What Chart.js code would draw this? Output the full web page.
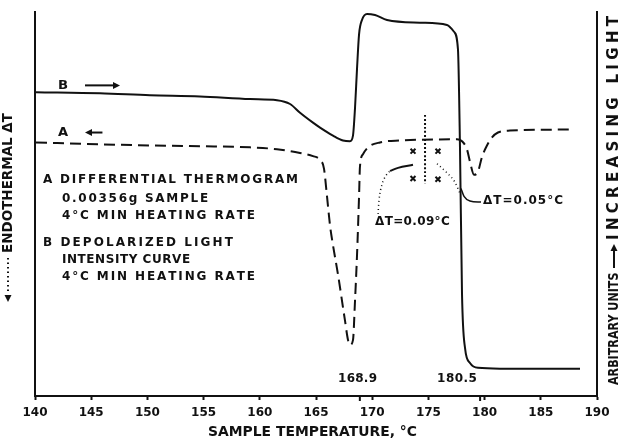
<!DOCTYPE html>
<html>
<head>
<meta charset="utf-8">
<script src="https://cdn.jsdelivr.net/npm/chart.js@4"></script>
<style>
  body { margin: 0; background: #fff; }
  canvas { display: block; }
</style>
</head>
<body>
<canvas id="thermo" width="621" height="440"></canvas>
<script>
// curve B: depolarized light intensity (solid)
const bTemp  = [140.09, 145.78, 150.23, 154.68, 159.13, 161.53, 162.69, 163.58, 164.73, 165.36, 166.51, 167.40, 168.02, 168.29, 168.47, 168.65, 168.83, 169.09, 169.54, 170.25, 171.32, 174.25, 176.65, 177.28, 177.63, 177.81, 177.99, 178.26, 178.70, 179.41, 181.37, 188.49];
const bLight = [78.9, 78.6, 78.1, 77.8, 77.1, 76.8, 75.8, 73.5, 70.9, 69.6, 67.5, 66.2, 66.0, 67.5, 74.7, 85.1, 94.1, 97.9, 99.5, 99.2, 97.9, 97.2, 96.6, 94.8, 90.2, 64.4, 25.8, 11.6, 7.7, 6.4, 6.2, 6.2];

// curve A: differential thermogram (dashed)
const aTemp  = [140.09, 145.78, 150.23, 154.68, 159.13, 161.53, 163.58, 164.73, 165.36, 165.71, 165.98, 166.25, 166.51, 166.96, 167.58, 167.85, 168.02, 168.29, 168.47, 168.65, 168.83, 168.91, 169.18, 169.63, 170.69, 172.47, 177.54, 177.99, 178.43, 178.70, 179.06, 179.41, 179.77, 180.21, 180.66, 181.19, 182.26, 187.78];
const aDelta = [65.7, 65.2, 64.9, 64.7, 64.4, 63.9, 62.9, 62.1, 61.1, 58.8, 51.5, 43.8, 38.7, 30.9, 18.8, 13.7, 12.4, 13.7, 24.0, 36.1, 51.5, 59.3, 62.6, 64.4, 65.7, 66.2, 66.5, 66.0, 63.9, 60.6, 57.2, 58.0, 61.9, 64.9, 67.0, 68.3, 68.8, 69.1];

// dotted detail curves near the transitions
const c1Temp = [170.52, 170.60, 170.87, 171.23, 171.58];
const c1Val  = [46.9, 50.3, 54.6, 57.0, 58.2];
const c2Temp = [171.58, 172.30, 173.63];
const c2Val  = [58.2, 59.0, 59.8];
const c3Temp = [175.77, 176.65, 177.37, 177.81];
const c3Val  = [60.1, 57.7, 55.2, 52.3];
const leadTemp = [177.90, 178.17, 178.70, 179.68];
const leadVal  = [53.6, 51.5, 50.3, 50.0];
const vTemp = [174.70, 174.70];
const vVal  = [72.9, 54.9];
const markTemp = [173.63, 175.85, 173.63, 175.85];
const markVal  = [63.4, 63.4, 56.2, 56.0];

// tick labels and notes
const xTicks = [140, 145, 150, 155, 160, 165, 170, 175, 180, 185, 190];
const noteText  = ["B", "A", "A DIFFERENTIAL THERMOGRAM", "0.00356g SAMPLE", "4°C MIN HEATING RATE", "B DEPOLARIZED LIGHT", "INTENSITY CURVE", "4°C MIN HEATING RATE", "ΔT=0.09°C", "ΔT=0.05°C", "168.9", "180.5"];
const noteFrom  = [142.05, 142.05, 140.71, 142.40, 142.40, 140.71, 142.40, 142.40, 170.25, 179.86, 166.96, 175.77];
const noteTo    = [142.95, 142.95, 163.40, 155.40, 159.57, 157.60, 153.80, 159.57, 176.90, 186.97, 170.43, 179.32];
const noteLevel = [80.7, 68.3, 55.9, 50.8, 46.4, 39.4, 34.8, 30.4, 44.8, 50.3, 3.6, 3.6];
const markTicks = [168.9, 179.6];

const ink = "#111";
const font = "bold 12px 'DejaVu Sans'";

function pts(xs, ys) { return xs.map((t, i) => ({ x: t, y: ys[i] })); }

function spaced(ctx, s, x0, x1, yy) {
  const chars = [...s];
  const widths = chars.map(c => ctx.measureText(c).width);
  const nat = widths.reduce((a, b) => a + b, 0);
  const room = x1 - x0;
  if (nat >= room || chars.length < 2) {
    ctx.save();
    ctx.translate(x0, yy);
    ctx.scale(room / nat, 1);
    ctx.fillText(s, 0, 0);
    ctx.restore();
    return;
  }
  const gap = (room - nat) / (chars.length - 1);
  let cx = x0;
  chars.forEach((c, k) => { ctx.fillText(c, cx, yy); cx += widths[k] + gap; });
}

function arrowHead(ctx, x, y, dir) {
  ctx.beginPath();
  ctx.moveTo(x, y);
  ctx.lineTo(x - dir * 7, y - 3.5);
  ctx.lineTo(x - dir * 7, y + 3.5);
  ctx.closePath();
  ctx.fill();
}

const annot = {
  id: "annot",
  afterDraw(chart) {
    const { ctx, scales: { x, y } } = chart;
    const px = t => x.getPixelForValue(t);
    const py = v => y.getPixelForValue(v);
    ctx.save();
    ctx.fillStyle = ink;
    ctx.strokeStyle = ink;
    ctx.textAlign = "left";
    ctx.textBaseline = "middle";
    ctx.font = font;

    noteText.forEach((s, i) => spaced(ctx, s, px(noteFrom[i]), px(noteTo[i]), py(noteLevel[i])));

    // little arrows after the curve names
    ctx.lineWidth = 2;
    ctx.beginPath();
    ctx.moveTo(px(144.45), py(80.7));
    ctx.lineTo(px(147.0), py(80.7));
    ctx.stroke();
    arrowHead(ctx, px(147.56), py(80.7), 1);
    ctx.beginPath();
    ctx.moveTo(px(145.0), py(68.3));
    ctx.lineTo(px(146.0), py(68.3));
    ctx.stroke();
    arrowHead(ctx, px(144.45), py(68.3), -1);

    // marks for the transition temperatures
    const bottom = chart.chartArea.bottom;
    markTicks.forEach(t => {
      ctx.beginPath();
      ctx.moveTo(px(t), bottom);
      ctx.lineTo(px(t), bottom + 5);
      ctx.stroke();
    });

    // x axis title
    ctx.font = "bold 14px 'DejaVu Sans'";
    spaced(ctx, "SAMPLE TEMPERATURE, °C", 208, 418, 432);

    // left axis title
    ctx.save();
    ctx.translate(8, 0);
    ctx.rotate(-Math.PI / 2);
    ctx.font = "bold 14px 'DejaVu Sans'";
    spaced(ctx, "ENDOTHERMAL ΔT", -253, -113, 0);
    ctx.setLineDash([1.5, 3]);
    ctx.lineWidth = 2;
    ctx.beginPath();
    ctx.moveTo(-258, 0);
    ctx.lineTo(-292, 0);
    ctx.stroke();
    ctx.setLineDash([]);
    arrowHead(ctx, -302, 0, -1);
    ctx.restore();

    // right axis title
    ctx.save();
    ctx.translate(614, 0);
    ctx.rotate(-Math.PI / 2);
    ctx.font = "bold 14px 'DejaVu Sans'";
    spaced(ctx, "ARBITRARY UNITS", -385, -272, 0);
    ctx.lineWidth = 2;
    ctx.beginPath();
    ctx.moveTo(-268, 0);
    ctx.lineTo(-250, 0);
    ctx.stroke();
    arrowHead(ctx, -244, 0, 1);
    ctx.font = "bold 15px 'DejaVu Sans'";
    spaced(ctx, "INCREASING LIGHT", -240, -16, 0);
    ctx.restore();

    ctx.restore();
  }
};

const line = (data, extra) => Object.assign({
  data, borderColor: ink, borderWidth: 2, pointRadius: 0,
  cubicInterpolationMode: "monotone", clip: false, fill: false
}, extra);

new Chart(document.getElementById("thermo"), {
  type: "line",
  data: {
    datasets: [
      line(pts(bTemp, bLight), { label: "B" }),
      line(pts(aTemp, aDelta), { label: "A", borderDash: [11, 6] }),
      line(pts(c1Temp, c1Val), { borderWidth: 1.5, borderDash: [1, 3] }),
      line(pts(c2Temp, c2Val), { borderWidth: 2 }),
      line(pts(c3Temp, c3Val), { borderWidth: 1.5, borderDash: [1, 3] }),
      line(pts(leadTemp, leadVal), { borderWidth: 1.5 }),
      line(pts(vTemp, vVal), { borderWidth: 2, borderDash: [2, 2] }),
      line(pts(markTemp, markVal), {
        showLine: false, pointRadius: 3.5, pointStyle: "crossRot",
        pointBorderWidth: 2, pointBorderColor: ink
      })
    ]
  },
  options: {
    responsive: false,
    devicePixelRatio: 1,
    animation: false,
    layout: { padding: { left: 35, right: 24, top: 12, bottom: 0 } },
    plugins: { legend: { display: false }, tooltip: { enabled: false } },
    scales: {
      x: {
        type: "linear", min: 140, max: 190,
        afterBuildTicks: s => { s.ticks = xTicks.map(v => ({ value: v })); },
        afterFit: s => { s.height = 44; },
        ticks: { color: ink, font: { family: "DejaVu Sans", size: 12, weight: "bold" }, padding: 6, maxRotation: 0 },
        grid: { drawOnChartArea: false, drawTicks: true, tickLength: 4, tickWidth: 2, color: ink },
        border: { display: true, color: ink, width: 2 }
      },
      y: {
        min: -1, max: 100,
        afterFit: s => { s.width = 0; },
        ticks: { display: false },
        grid: { display: false },
        border: { display: true, color: ink, width: 2, dash: [2, 1.5] }
      },
      y2: {
        position: "right", min: -1, max: 100,
        afterFit: s => { s.width = 0; },
        ticks: { display: false },
        grid: { display: false },
        border: { display: true, color: ink, width: 2, dash: [2, 1.5] }
      }
    }
  },
  plugins: [annot]
});
</script>
</body>
</html>
